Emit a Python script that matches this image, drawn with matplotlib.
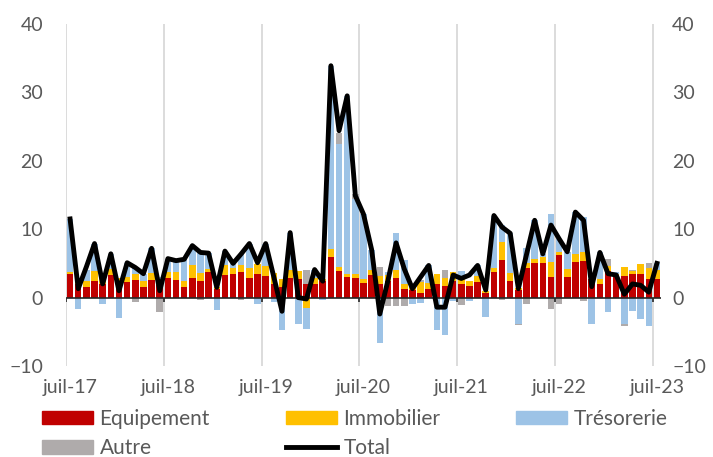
import numpy as np
import matplotlib
matplotlib.use("Agg")
import matplotlib.pyplot as plt
from matplotlib.patches import Patch
from matplotlib.lines import Line2D

plt.rcParams['font.family'] = ['Lato', 'DejaVu Sans']

# mois de juil-17 a juil-23 (73 mois)
tick_labels = ['juil-17', 'juil-18', 'juil-19', 'juil-20', 'juil-21', 'juil-22', 'juil-23']

equipement = [3.4, 2.0, 1.6, 2.5, 2.0, 3.3, 2.3, 2.3, 2.6, 1.6, 2.6, 1.8,
              2.8, 2.6, 1.5, 2.9, 2.5, 3.7, 1.3, 3.3, 3.5, 3.8, 2.8, 3.4,
              3.2, 2.0, 1.5, 2.9, 2.7, 2.0, 2.0, 2.4, 5.9, 3.9, 3.0, 2.9,
              2.2, 3.3, 2.0, 2.5, 2.8, 1.2, 1.1, 0.7, 1.3, 2.0, 1.7, 2.4,
              2.0, 1.7, 2.3, 0.7, 3.8, 5.5, 2.5, 1.1, 4.4, 5.0, 5.0, 3.0,
              6.2, 3.0, 5.2, 5.4, 2.7, 2.0, 3.9, 3.2, 3.2, 3.4, 3.4, 2.7,
              2.7]
immobilier = [0.3, 0.6, 0.9, 1.4, 0.8, 0.9, 0.5, 0.7, 0.9, 0.9, 1.0, 0.3,
              0.9, 1.2, 1.0, 1.8, 1.1, 0.5, 0.2, 1.4, 0.9, 1.0, 1.6, 1.5,
              1.4, 1.6, 1.2, 1.2, 1.2, -1.5, 0.9, 0.3, 1.2, 0.6, 0.5, 0.5,
              0.5, 0.8, 1.2, 0.8, 1.2, 0.8, 0.9, 1.6, 0.8, 1.4, 1.1, 1.4,
              1.0, 0.8, 0.8, 0.3, 0.6, 2.6, 1.1, 0.3, 0.7, 0.6, 1.0, 2.2,
              0.4, 1.2, 1.2, 1.2, 0.0, 0.7, 0.7, 0.3, 1.3, 0.5, 1.5, 1.7,
              1.4]
tresorerie = [7.8, -1.6, 1.5, 4.0, -1.0, 2.2, -3.0, 2.1, 1.0, 1.0, 3.6, 0.9,
              2.0, 1.6, 3.1, 2.9, 3.0, 2.3, -1.8, 2.1, 0.6, 1.6, 3.5, -1.0,
              3.2, -0.6, -4.7, 5.4, -3.9, -3.1, 1.2, -0.3, 26.8, 17.9, 26.0, 11.0,
              9.5, 2.9, -6.7, 0.5, 5.4, 3.5, -1.0, -0.8, 2.6, -4.8, -5.4, -0.5,
              0.9, -0.5, 1.6, -2.9, 7.6, 2.5, 5.8, -3.8, 2.2, 5.7, 0.4, 7.0,
              2.0, 2.5, 6.1, 5.2, -3.9, 3.9, -2.1, 0.2, -3.9, -2.0, -3.1, -4.1,
              0.9]
autre = [0.0, 0.0, 0.0, 0.0, 0.0, 0.0, 0.0, 0.0, -0.6, 0.0, 0.0, -2.1,
         0.0, 0.0, 0.0, 0.0, -0.3, 0.0, 0.0, 0.0, 0.0, -0.3, 0.0, 0.0,
         0.0, 0.0, 0.0, 0.0, 0.0, 2.0, 0.0, 0.0, 0.0, 1.7, 0.0, 0.8,
         0.0, 0.0, 1.3, -1.3, -1.3, -1.3, 0.0, 0.3, 0.0, 0.0, 1.2, 0.0,
         -1.1, 0.0, 0.0, 0.0, 0.0, -0.3, 0.0, -0.2, -1.0, 0.0, 0.0, -1.6,
         -1.0, 0.0, 0.0, -0.5, 0.0, 0.0, 1.0, 0.0, -0.3, 0.2, 0.0, 0.7,
         0.0]
total = [11.5, 1.3, 4.5, 7.9, 2.0, 6.4, 1.0, 5.1, 4.4, 3.5, 7.2, 1.0,
         5.7, 5.4, 5.6, 7.6, 6.6, 6.5, 1.5, 6.8, 5.0, 6.4, 7.9, 5.1,
         7.9, 3.0, -2.0, 9.5, 0.0, -0.2, 4.1, 2.4, 33.9, 24.4, 29.5, 14.9,
         12.2, 7.0, -2.4, 2.5, 8.0, 4.2, 1.3, 3.0, 4.7, -1.4, -1.4, 3.3,
         2.8, 3.3, 4.7, 1.1, 12.0, 10.3, 9.4, 1.3, 6.3, 11.3, 6.4, 10.6,
         8.6, 6.7, 12.5, 11.3, 1.6, 6.6, 3.5, 3.3, 0.5, 2.0, 1.8, 0.8,
         5.0]

series = [('Equipement', equipement, '#C00000'),
          ('Immobilier', immobilier, '#FFC000'),
          ('Trésorerie', tresorerie, '#9DC3E6'),
          ('Autre', autre, '#AFABAB')]

x = np.arange(len(total))
grey_txt = '#595959'

fig = plt.figure(figsize=(7.13, 4.57), dpi=100)
ax = fig.add_axes([66 / 713, 1 - 366 / 457, 595 / 713, 342 / 457])

# grille verticale en debut de chaque juillet
for k in range(0, len(total), 12):
    ax.axvline(k - 0.5, color='#D9D9D9', lw=1.3, zorder=0)

# barres empilees (positifs vers le haut, negatifs vers le bas)
pos = np.zeros(len(total))
neg = np.zeros(len(total))
for name, vals, col in series:
    v = np.array(vals)
    b = np.where(v >= 0, pos, neg)
    ax.bar(x, v, width=0.8, bottom=b, color=col, linewidth=0, zorder=2)
    pos = pos + np.clip(v, 0, None)
    neg = neg + np.clip(v, None, 0)

ax.axhline(0, color='#262626', lw=1.2, zorder=3)
ax.vlines(np.arange(0, len(total), 12) - 0.5, -0.7, 0, color='#262626', lw=1.2, zorder=3)

ax.plot(x, total, color='black', lw=3.5, zorder=4)

ax.set_xlim(-0.5, len(total) - 0.5)
ax.set_ylim(-10, 40)
ax.set_yticks(range(-10, 41, 10))
ax.set_xticks(np.arange(0, len(total), 12))
ax.set_xticklabels(tick_labels)
ax.tick_params(axis='x', length=0, pad=9, labelsize=14, labelcolor=grey_txt)
ax.tick_params(axis='y', length=0, pad=16.5, labelsize=14, labelcolor=grey_txt)
for s in ax.spines.values():
    s.set_visible(False)

ax2 = ax.twinx()
ax2.set_ylim(-10, 40)
ax2.set_yticks(range(-10, 41, 10))
ax2.tick_params(axis='y', length=0, pad=8, labelsize=14, labelcolor=grey_txt)
for s in ax2.spines.values():
    s.set_visible(False)

handles = [Patch(color='#C00000'), Patch(color='#AFABAB'),
           Patch(color='#FFC000'), Line2D([], [], color='black', lw=3.5),
           Patch(color='#9DC3E6')]
labels = ['Equipement', 'Autre', 'Immobilier', 'Total', 'Trésorerie']
leg = fig.legend(handles, labels, ncol=3, loc='upper left',
                 bbox_to_anchor=(0.033, 0.146), frameon=False,
                 fontsize=15, handlelength=2.45, handleheight=0.62,
                 handletextpad=0.3, columnspacing=3.65, labelspacing=0.45)
for t in leg.get_texts():
    t.set_color(grey_txt)

fig.savefig('out.png', dpi=100)
